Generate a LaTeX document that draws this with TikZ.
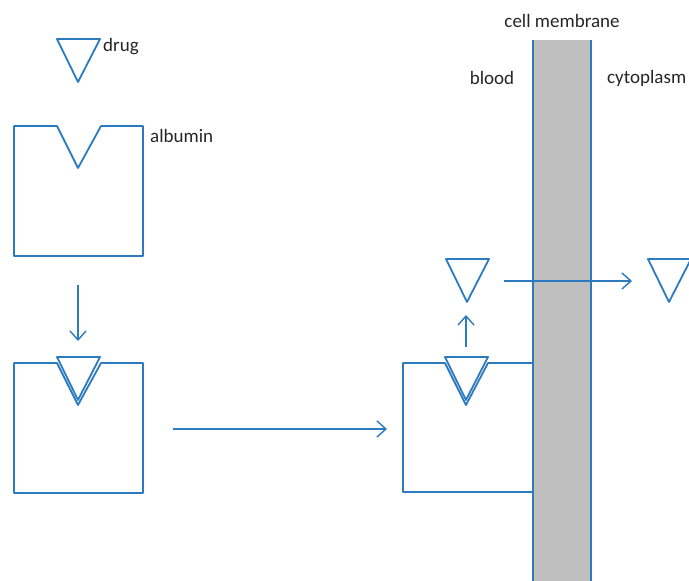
\documentclass[tikz,border=0pt]{standalone}
\usepackage{fontspec}
\setmainfont{Carlito}
\usetikzlibrary{arrows.meta}
\definecolor{lineblue}{RGB}{44,122,192}
\definecolor{membranegray}{RGB}{191,191,191}
\definecolor{labelgray}{RGB}{38,38,38}
\tikzset{
  outline/.style={draw=lineblue, line width=1.8pt, line join=round},
  flow/.style={draw=lineblue, line width=1.4pt, -{Straight Barb[length=9pt,width=16pt,line width=1.4pt]}},
  label/.style={font=\fontsize{19}{22}\selectfont, text=labelgray, inner sep=0pt},
}
\begin{document}
\begin{tikzpicture}[x=1pt,y=-1pt]
\useasboundingbox (0,0) rectangle (689,581);

% cell membrane
\fill[membranegray] (533,40) rectangle (591,585);
\draw[outline] (533,40) -- (533,585);
\draw[outline] (591,40) -- (591,585);

% labels
\node[label, anchor=west] (drugtxt) at (103,47) {drug};
\node[label, anchor=west] (albtxt) at (150,136) {albumin};
\node[label] (memtxt) at (562,21) {cell membrane};
\node[label] (bloodtxt) at (492,78) {blood};
\node[label, anchor=west] (cyttxt) at (607,78) {cytoplasm};

% free drug
\draw[outline] (57,39) -- (100,39) -- (78,82) -- cycle;

% albumin with empty binding site
\draw[outline] (14,126) -- (57,126) -- (78,168) -- (101,126) -- (143,126)
  -- (143,256) -- (14,256) -- cycle;

% albumin with bound drug
\draw[outline] (14,363) -- (57,363) -- (78,405) -- (101,363) -- (143,363)
  -- (143,493) -- (14,493) -- cycle;
\draw[outline] (57,357) -- (100,357) -- (78,400) -- cycle;

% albumin at the membrane with bound drug
\draw[outline] (533,363) -- (488,363) -- (466,405) -- (445,363) -- (403,363)
  -- (403,492) -- (533,492);
\draw[outline] (445,357) -- (488,357) -- (466,400) -- cycle;

% released drug in blood
\draw[outline] (446,259) -- (489,259) -- (467,302) -- cycle;

% drug in cytoplasm
\draw[outline] (648,259) -- (691,259) -- (669,302) -- cycle;

% arrow end points
\coordinate (bindA) at (78,285);
\coordinate (bindB) at (78,341);
\coordinate (moveA) at (173,429);
\coordinate (moveB) at (387,429);
\coordinate (relA) at (466,347);
\coordinate (relB) at (466,315);
\coordinate (crossA) at (504,281);
\coordinate (crossB) at (632,281);

\draw[flow] (bindA) -- (bindB);
\draw[flow] (moveA) -- (moveB);
\draw[flow] (relA) -- (relB);
\draw[flow] (crossA) -- (crossB);
\end{tikzpicture}
\end{document}
